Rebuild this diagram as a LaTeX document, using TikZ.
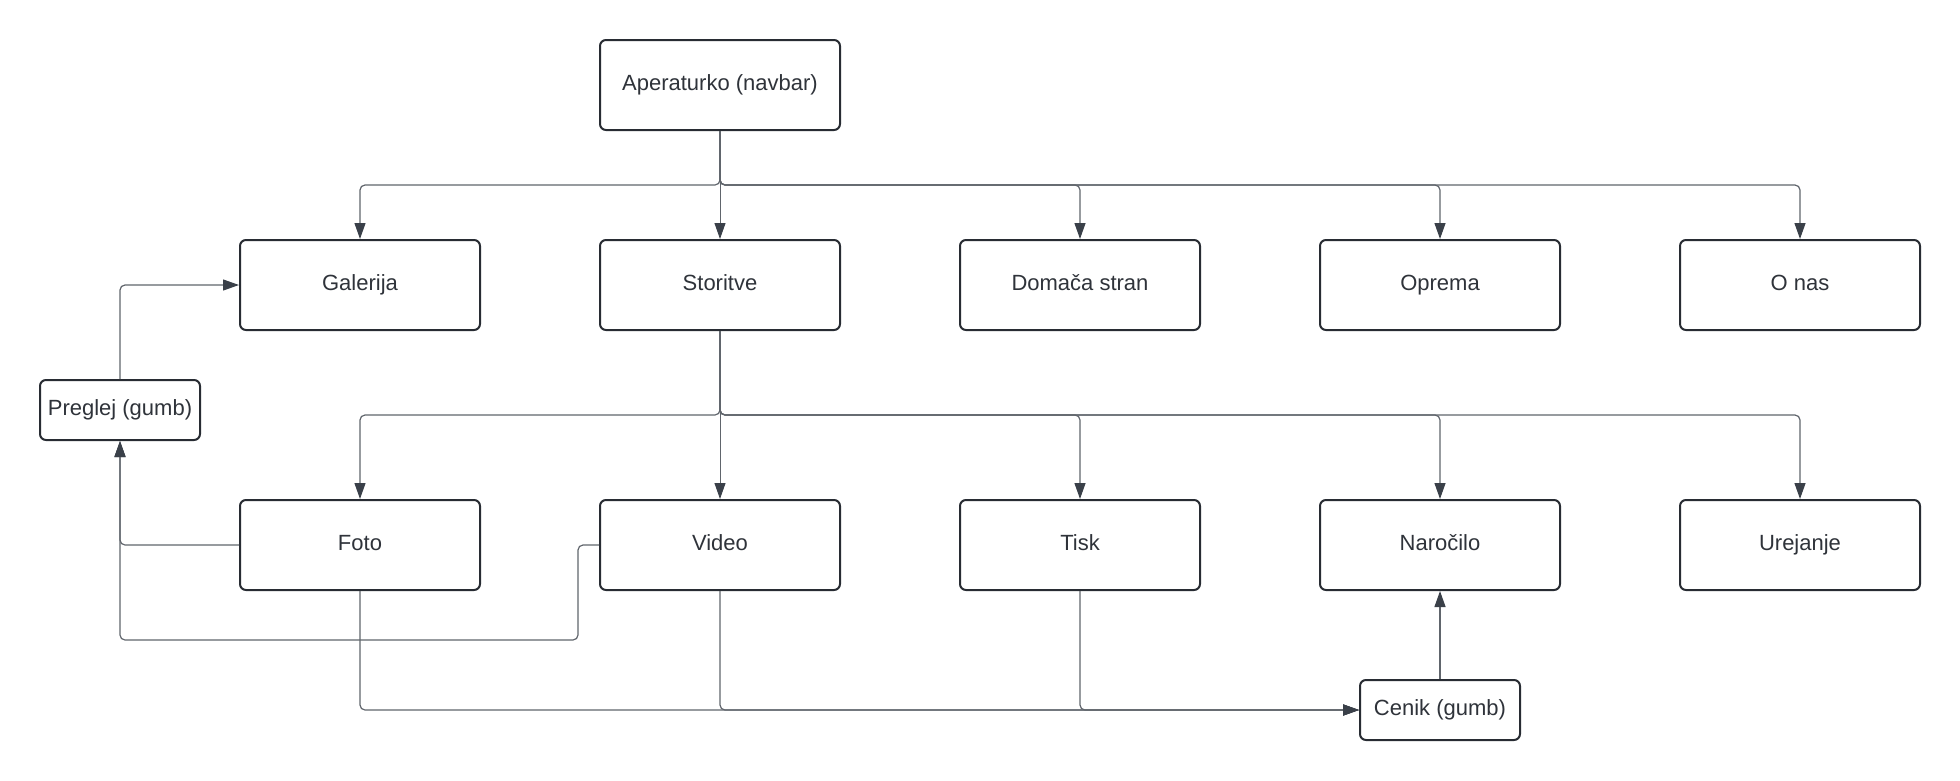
\documentclass[tikz,border=0pt]{standalone}
\usepackage{fontspec}
\setmainfont{Liberation Sans}
\usetikzlibrary{arrows.meta}
\definecolor{boxline}{HTML}{282C33}
\definecolor{wire}{HTML}{60656C}
\definecolor{tip}{HTML}{3A4049}
\definecolor{label}{HTML}{2F333A}
\begin{document}
\begin{tikzpicture}[x=1pt,y=-1pt,
  box/.style={draw=boxline, line width=2pt, rounded corners=6pt, fill=white,
    minimum width=240pt, minimum height=90pt, inner sep=0pt,
    text height=15pt, text depth=5pt,
    font=\fontsize{22}{26}\selectfont, text=label},
  smallbox/.style={box, minimum width=160pt, minimum height=60pt},
  conn/.style={draw=wire, line width=1.2pt, rounded corners=5pt,
    -{Triangle[length=16pt,width=11pt,fill=tip,color=tip]}},
  thinconn/.style={conn, line width=0.9pt}]
\useasboundingbox (0,0) rectangle (1960,780);

% top level
\node[box] (ap) at (720,85) {Aperaturko (navbar)};

% first row
\node[box] (gal) at (360,285) {Galerija};
\node[box] (st) at (720,285) {Storitve};
\node[box] (dom) at (1080,285) {Domača stran};
\node[box] (opr) at (1440,285) {Oprema};
\node[box] (onas) at (1800,285) {O nas};

% second row
\node[box] (foto) at (360,545) {Foto};
\node[box] (vid) at (720,545) {Video};
\node[box] (tisk) at (1080,545) {Tisk};
\node[box] (nar) at (1440,545) {Naročilo};
\node[box] (ure) at (1800,545) {Urejanje};

% buttons
\node[smallbox] (pr) at (120,410) {Preglej (gumb)};
\node[smallbox] (ce) at (1440,710) {Cenik (gumb)};

% navbar links
\draw[conn] (ap.south) -- (720,185) -| (gal.north);
\draw[thinconn] (ap.south) -- (st.north);
\draw[conn] (ap.south) -- (720,185) -| (dom.north);
\draw[conn] (ap.south) -- (720,185) -| (opr.north);
\draw[conn] (ap.south) -- (720,185) -| (onas.north);

% services
\draw[conn] (st.south) -- (720,415) -| (foto.north);
\draw[thinconn] (st.south) -- (vid.north);
\draw[conn] (st.south) -- (720,415) -| (tisk.north);
\draw[conn] (st.south) -- (720,415) -| (nar.north);
\draw[conn] (st.south) -- (720,415) -| (ure.north);

% gallery button
\draw[conn] (pr.north) |- (gal.west);
\draw[conn] (foto.west) -| (pr.south);
\draw[conn] (vid.west) -| (578,640) -| (pr.south);

% price list button
\draw[conn] (foto.south) |- (ce.west);
\draw[conn] (vid.south) |- (ce.west);
\draw[conn] (tisk.south) |- (ce.west);
\draw[conn] (ce.north) -- (nar.south);
\end{tikzpicture}
\end{document}
